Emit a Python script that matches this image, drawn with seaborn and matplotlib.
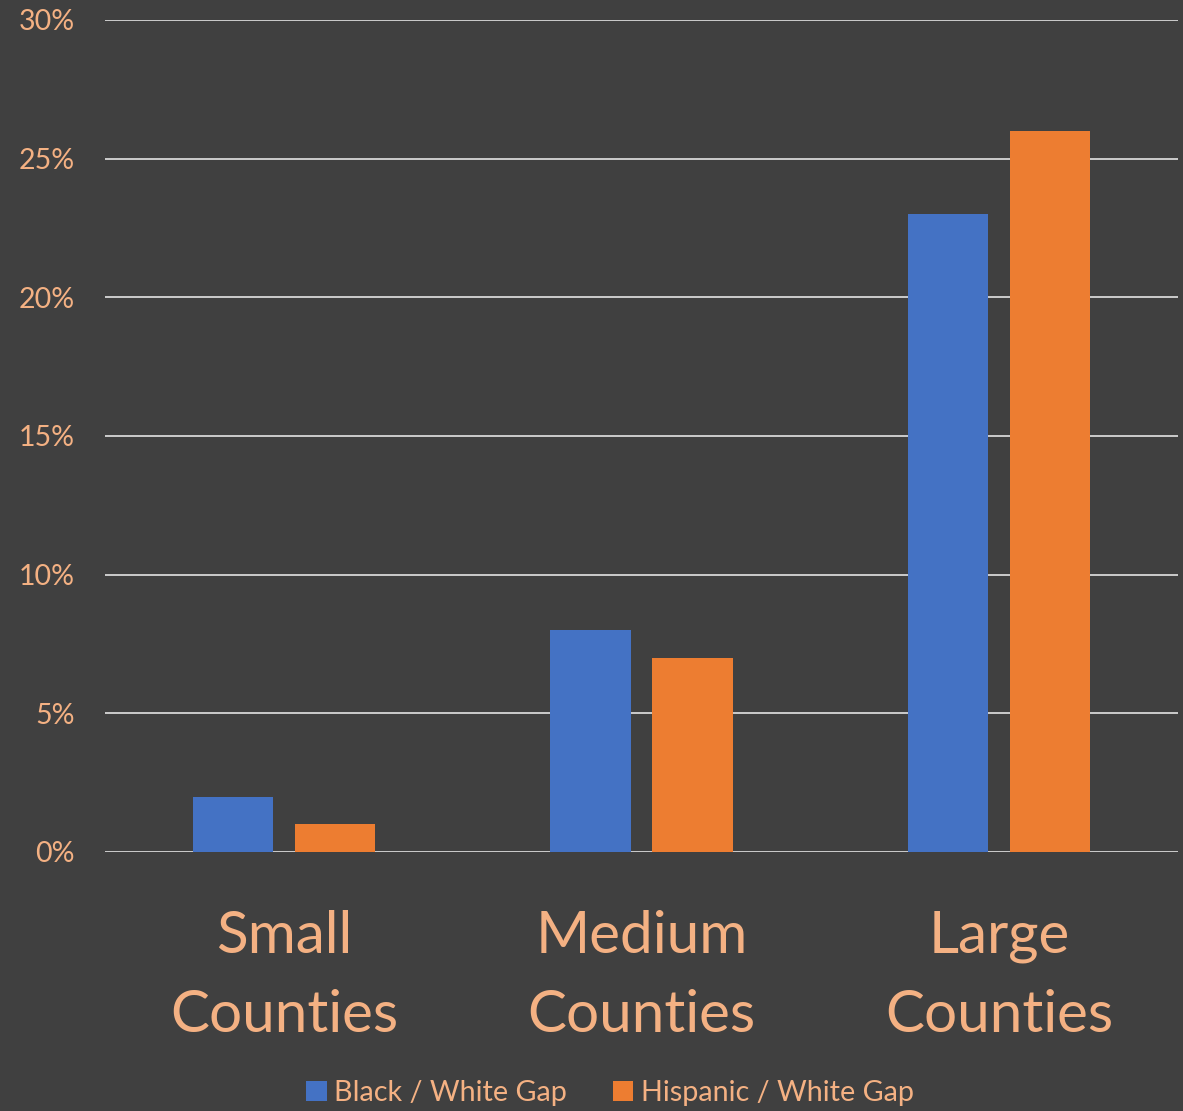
import matplotlib
matplotlib.use("Agg")
import matplotlib.pyplot as plt
import seaborn as sns
import pandas as pd
from matplotlib.patches import Patch
from matplotlib.ticker import FuncFormatter

categories = ["Small\nCounties", "Medium\nCounties", "Large\nCounties"]
series_names = ["Black / White Gap", "Hispanic / White Gap"]
black_white = [2, 8, 23]
hispanic_white = [1, 7, 26]
y_ticks = [0, 5, 10, 15, 20, 25, 30]

BG = "#404040"
TXT = "#F4B183"
COLORS = ["#4472C4", "#ED7D31"]

sns.set_theme(style="dark")
plt.rcParams["font.family"] = ["Lato", "DejaVu Sans"]

df = pd.DataFrame({
    "Category": categories * 2,
    "Series": [series_names[0]] * 3 + [series_names[1]] * 3,
    "Value": black_white + hispanic_white,
})

fig = plt.figure(figsize=(11.83, 11.11), dpi=100, facecolor=BG)
ax = fig.add_axes([105 / 1183, 1 - 852 / 1111, (1178 - 105) / 1183, (852 - 20) / 1111])
ax.set_facecolor(BG)

sns.barplot(data=df, x="Category", y="Value", hue="Series", order=categories,
            hue_order=series_names, palette=COLORS, width=0.57, gap=0.21,
            saturation=1, ax=ax, legend=False, edgecolor="none")

ax.set_ylim(0, 30)
ax.set_xlim(-0.5, 2.5)
ax.set_yticks(y_ticks)
ax.yaxis.set_major_formatter(FuncFormatter(lambda v, p: f"{int(v)}%"))
ax.grid(axis="y", color="#CCCCCC", linewidth=1.4)
ax.grid(axis="x", visible=False)
ax.set_axisbelow(True)
for s in ax.spines.values():
    s.set_visible(False)
ax.tick_params(axis="y", length=0, pad=22, labelsize=20.5, labelcolor=TXT)
ax.tick_params(axis="x", length=0, pad=42, labelsize=42, labelcolor=TXT)
for lbl in ax.get_xticklabels():
    lbl.set_linespacing(1.6)
ax.set_xlabel("")
ax.set_ylabel("")

handles = [Patch(facecolor=c, edgecolor="none") for c in COLORS]
fig.legend(handles, series_names, loc="center", bbox_to_anchor=(610 / 1183, 1 - 1093 / 1111),
           ncol=2, frameon=False, fontsize=20.7, labelcolor=TXT, handlelength=0.7,
           handleheight=0.7, handletextpad=0.25, columnspacing=1.62)

fig.savefig("out.png", dpi=100, facecolor=BG)
